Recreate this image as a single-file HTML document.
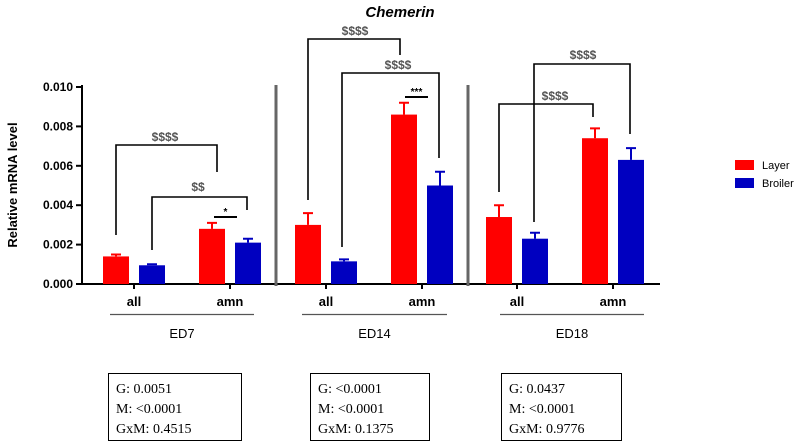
<!DOCTYPE html>
<html><head><meta charset="utf-8"><style>
html,body{margin:0;padding:0;background:#fff;}
svg{display:block;font-family:"Liberation Sans",Arial,sans-serif;}
</style></head><body>
<svg id="c" width="800" height="444" viewBox="0 0 800 444">
<text x="400" y="17" text-anchor="middle" font-size="15" font-weight="bold" font-style="italic">Chemerin</text>
<text transform="translate(17,185) rotate(-90)" text-anchor="middle" font-size="13" font-weight="bold">Relative mRNA level</text>
<g id="axes"></g><g id="bars"></g><g id="ann"></g>
<g>
<rect x="735" y="160" width="19" height="10" fill="#ff0000"/>
<text x="762" y="169" font-size="11">Layer</text>
<rect x="735" y="178" width="19" height="10" fill="#0000c0"/>
<text x="762" y="187" font-size="11">Broiler</text>
</g>
<g font-family="'Liberation Serif',serif" font-size="14">
<rect x="108.5" y="373.5" width="133" height="67" fill="none" stroke="#000"/>
<text x="116" y="393">G: 0.0051</text>
<text x="116" y="413">M: &lt;0.0001</text>
<text x="116" y="433">GxM: 0.4515</text>
<rect x="310.5" y="373.5" width="119" height="67" fill="none" stroke="#000"/>
<text x="318" y="393">G: &lt;0.0001</text>
<text x="318" y="413">M: &lt;0.0001</text>
<text x="318" y="433">GxM: 0.1375</text>
<rect x="501.5" y="373.5" width="120" height="67" fill="none" stroke="#000"/>
<text x="509" y="393">G: 0.0437</text>
<text x="509" y="413">M: &lt;0.0001</text>
<text x="509" y="433">GxM: 0.9776</text>
</g>
</svg>
<script>
const stages = ["ED7","ED14","ED18"];
const tissues = ["all","amn"];
const layerVals = [0.0014,0.0028,0.0030,0.0086,0.0034,0.0074];
const layerErr = [0.0001,0.0003,0.0006,0.0006,0.0006,0.0005];
const broilerVals = [0.00095,0.0021,0.00115,0.0050,0.0023,0.0063];
const broilerErr = [0.00005,0.0002,0.0001,0.0007,0.0003,0.0006];
const yTicks = ["0.000","0.002","0.004","0.006","0.008","0.010"];

const NS="http://www.w3.org/2000/svg";
const Y0=284, Y1=87, YMAX=0.010;
function y(v){return Y0-(v/YMAX)*(Y0-Y1);}
const groupStart=[103,295,486];
function catCenter(i){const g=Math.floor(i/2),t=i%2;return groupStart[g]+31+t*96;}
function mk(parent,tag,attrs){const e=document.createElementNS(NS,tag);for(const k in attrs)e.setAttribute(k,attrs[k]);document.getElementById(parent).appendChild(e);return e;}

let e=mk("axes","line",{x1:82,y1:85,x2:82,y2:Y0,stroke:"#000","stroke-width":2});


e=mk("axes","line",{x1:81,y1:Y0,x2:660,y2:Y0,stroke:"#000","stroke-width":2});


yTicks.forEach((t,i)=>{
  const v=parseFloat(t), yy=y(v);
  let l=mk("axes","line",{x1:76,y1:yy,x2:82,y2:yy,stroke:"#000","stroke-width":2});
  
  
  let tx=mk("axes","text",{x:73,y:yy+4,"text-anchor":"end","font-size":12,"font-weight":"bold"});
  tx.textContent=t;
  
  
});
[276,468].forEach(sx=>{
  let s=mk("axes","line",{x1:sx,y1:85,x2:sx,y2:286,stroke:"#666","stroke-width":3});
  
  
});
for(let i=0;i<6;i++){
  const cx=catCenter(i);
  let l=mk("axes","line",{x1:cx,y1:Y0,x2:cx,y2:Y0+5,stroke:"#000","stroke-width":2});
  
  
  let tx=mk("axes","text",{x:cx,y:306,"text-anchor":"middle","font-size":13,"font-weight":"bold"});
  tx.textContent=tissues[i%2];
  
  
}
const ul=[[110,254],[302,447],[500,644]];
stages.forEach((s,g)=>{
  let l=mk("axes","line",{x1:ul[g][0],y1:314.5,x2:ul[g][1],y2:314.5,stroke:"#555","stroke-width":1.2});
  
  
  let tx=mk("axes","text",{x:(ul[g][0]+ul[g][1])/2,y:338,"text-anchor":"middle","font-size":13});
  tx.textContent=s;
  
  
});
function drawBar(x,v,err,col,name){
  const top=y(v), et=y(v+err);
  let b=mk("bars","rect",{x:x,y:top,width:26,height:Y0-top,fill:col});
  
  
  let eb=mk("bars","path",{d:`M${x+13},${top}V${et}M${x+8},${et}H${x+18}`,stroke:col,"stroke-width":2,fill:"none"});
  
  
}
for(let i=0;i<6;i++){
  const cx=catCenter(i);
  drawBar(cx-31,layerVals[i],layerErr[i],"#ff0000","bar-layer-"+stages[Math.floor(i/2)]+"-"+tissues[i%2]);
  drawBar(cx+5,broilerVals[i],broilerErr[i],"#0000c0","bar-broiler-"+stages[Math.floor(i/2)]+"-"+tissues[i%2]);
}
function bracket(x1,yl,x2,yr,top,label,lx,ly,name){
  let p=mk("ann","path",{d:`M${x1},${yl}V${top}H${x2}V${yr}`,stroke:"#000","stroke-width":1.6,fill:"none"});
  
  
  let t=mk("ann","text",{x:lx,y:ly,"text-anchor":"middle","font-size":12,fill:"#555","font-weight":"bold"});
  t.textContent=label;
  
  
}
bracket(116,235,217,172,145,"$$$$",165,141,"sig-bracket-ed7-layer");
bracket(152,250,247,210,197,"$$",198,191,"sig-bracket-ed7-broiler");
bracket(308,200,400,55,39,"$$$$",355,35,"sig-bracket-ed14-layer");
bracket(342,247,439,158,73,"$$$$",398,69,"sig-bracket-ed14-broiler");
bracket(534,222,630,134,64,"$$$$",583,59,"sig-bracket-ed18-broiler");
bracket(499,192,593,117,104,"$$$$",555,100,"sig-bracket-ed18-layer");
function star(x1,x2,yy,label,name){
  let l=mk("ann","line",{x1:x1,y1:yy,x2:x2,y2:yy,stroke:"#000","stroke-width":2});
  
  
  let t=mk("ann","text",{x:(x1+x2)/2,y:yy-2,"text-anchor":"middle","font-size":10,"font-weight":"bold"});
  t.textContent=label;
  
  
}
star(214,237,217,"*","sig-star-ed7-amn");
star(405,428,97,"***","sig-star-ed14-amn");
</script>
</body></html>
